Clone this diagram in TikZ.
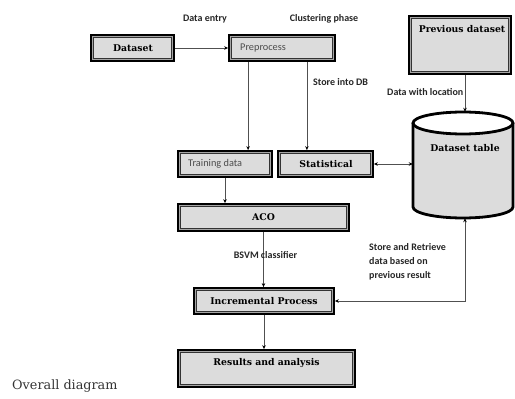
\documentclass[tikz,border=0pt]{standalone}
\usepackage{fontspec}
\setmainfont{DejaVu Serif}
\newfontfamily\sansf{Carlito}
\usetikzlibrary{arrows.meta,calc}
\definecolor{boxfill}{HTML}{DCDCDC}
\definecolor{linegray}{HTML}{505050}
\tikzset{
  boxo/.style={draw=black, line width=2.8pt, fill=boxfill, inner sep=0pt, rectangle},
  innerline/.style={draw=black!80, line width=0.9pt},
  gapline/.style={draw=gray!70, line width=1.3pt},
  bold/.style={font=\fontsize{9.3}{11}\selectfont\bfseries},
  plain/.style={font=\sansf\fontsize{10.3}{12}\selectfont, text=black!70},
  lab/.style={font=\sansf\fontsize{10}{12}\selectfont\bfseries, text=black!85, inner sep=0pt},
  arr/.style={draw=linegray, line width=0.7pt, -{Stealth[length=4pt,width=3.5pt,black]}},
  darr/.style={draw=linegray, line width=0.7pt, {Stealth[length=4pt,width=3.5pt,black]}-{Stealth[length=4pt,width=3.5pt,black]}},
}
\newcommand{\inbox}[1]{%
\draw[gapline] ([shift={(2.2pt,-2.2pt)}]#1.north west) rectangle ([shift={(-2.2pt,2.2pt)}]#1.south east);
\draw[innerline] ([shift={(3.7pt,-3.7pt)}]#1.north west) rectangle ([shift={(-3.7pt,3.7pt)}]#1.south east);}
\begin{document}
\begin{tikzpicture}[x=1pt,y=1pt]
\useasboundingbox (0,0) rectangle (515,-399);
% boxes
\node[boxo, minimum width=82pt, minimum height=25pt] (ds) at (132.5,-48) {};
\inbox{ds}
\node[bold, inner sep=0pt] (dst) at (133,-48) {Dataset};
\node[boxo, minimum width=105pt, minimum height=25pt] (pre) at (282,-48) {};
\inbox{pre}
\node[plain, anchor=west, inner sep=0pt] (pret) at (240,-48) {Preprocess};
\node[boxo, minimum width=101pt, minimum height=57pt] (prev) at (460,-45) {};
\inbox{prev}
\node[bold, inner sep=0pt] (prevt) at (462,-29) {Previous dataset};
\node[boxo, minimum width=93pt, minimum height=25pt] (tr) at (225,-164) {};
\inbox{tr}
\node[plain, anchor=west, inner sep=0pt] (trt) at (188,-164) {Training data};
\node[boxo, minimum width=94pt, minimum height=25pt] (st) at (325.5,-164) {};
\inbox{st}
\node[bold, inner sep=0pt] (stt) at (326,-164) {Statistical};
\node[boxo, minimum width=170pt, minimum height=26pt] (aco) at (263.5,-217.5) {};
\inbox{aco}
\node[bold, inner sep=0pt] (acot) at (263.5,-217.5) {ACO};
\node[boxo, minimum width=139pt, minimum height=25pt] (inc) at (264,-301) {};
\inbox{inc}
\node[bold, inner sep=0pt] (inct) at (264,-301) {Incremental Process};
\node[boxo, minimum width=176pt, minimum height=36pt] (res) at (266.5,-368.5) {};
\inbox{res}
\node[bold, inner sep=0pt] (rest) at (266.5,-363) {Results and analysis};
% cylinder
\node[minimum width=100pt, minimum height=106pt, inner sep=0pt] (db) at (463,-165) {};
\fill[boxfill] (413,-123) -- (413,-207) arc[start angle=180,end angle=360,x radius=50,y radius=11] -- (513,-123) -- cycle;
\filldraw[fill=white, draw=black, line width=2.8pt] (463,-123) ellipse[x radius=50,y radius=11];
\draw[line width=2.8pt] (413,-123) -- (413,-207) arc[start angle=180,end angle=360,x radius=50,y radius=11] -- (513,-123);
\node[bold, inner sep=0pt] (dbt) at (465,-148) {Dataset table};
% connectors
\draw[arr] (ds.east) -- (pre.west);
\coordinate (p1) at ([xshift=20pt]pre.south west);
\coordinate (p2) at ([xshift=-29pt]pre.south east);
\draw[arr] (p1) -- (p1 |- tr.north);
\draw[arr] (p2) -- (p2 |- st.north);
\coordinate (q1) at ([xshift=5pt]prev.south);
\draw[arr] (q1) -- (q1 |- db.north);
\draw[darr] (st.east) -- (st.east -| db.west);
\draw[arr] (tr.south) -- (tr.south |- aco.north);
\draw[arr] (aco.south) -- (aco.south |- inc.north);
\draw[arr] (inc.south) -- (inc.south |- res.north);
\coordinate (q2) at ([xshift=2pt]db.south);
\draw[darr] (inc.east) -| (q2);
% labels
\node[lab] (l1) at (205,-19) {Data entry};
\node[lab] (l2) at (324,-19) {Clustering phase};
\node[lab, anchor=west] (l3) at (313,-82) {Store into DB};
\node[lab, anchor=west] (l4) at (387,-92) {Data with location};
\node[lab] (l5) at (265.5,-255) {BSVM classifier};
\node[lab, anchor=north west, align=left, font=\sansf\fontsize{10}{14}\selectfont\bfseries] (l6) at (369,-243) {Store and Retrieve\\data based on\\previous result};
\node[inner sep=0pt, anchor=west, font=\fontsize{12.8}{14}\selectfont, text=black!80] (cap) at (12,-386) {Overall diagram};
\end{tikzpicture}
\end{document}
